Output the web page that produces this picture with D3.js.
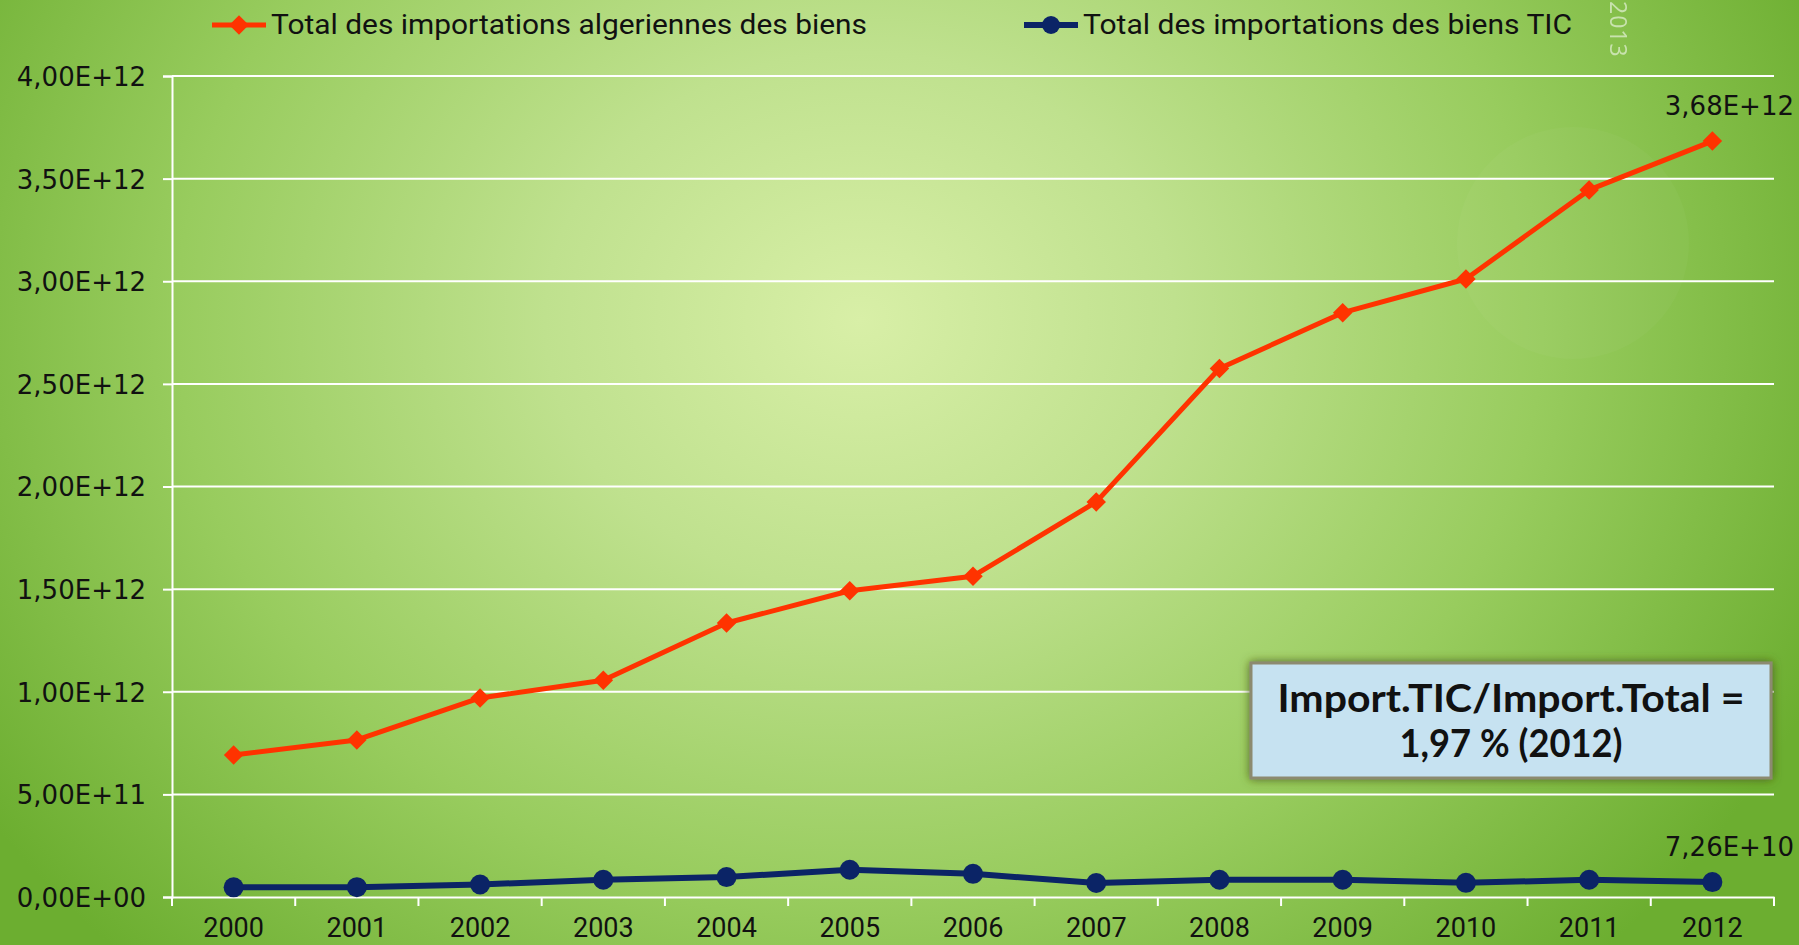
<!DOCTYPE html>
<html>
<head>
<meta charset="utf-8">
<script src="https://cdn.jsdelivr.net/npm/d3@7"></script>
<style>
	html, body { margin: 0; padding: 0; overflow: hidden; background: #7cbb42; }
	.axis-label { font-family: "DejaVu Sans", sans-serif; font-size: 26px; fill: #111; }
	.year-label { font-family: Roboto, sans-serif; font-size: 27px; fill: #111; }
	.legend-text { font-family: Roboto, sans-serif; font-size: 28px; fill: #111; }
	.data-label { font-family: "DejaVu Sans", sans-serif; font-size: 26px; fill: #111; }
	.note-text { font-family: Lato, sans-serif; font-weight: 700; font-size: 39px; fill: #111; }
</style>
</head>
<body>
<div id="chart"></div>
<script>

///////////////////////////////////////////////////////////////////////////
/////////////////////////////// The data //////////////////////////////////
///////////////////////////////////////////////////////////////////////////

var years = ["2000","2001","2002","2003","2004","2005","2006","2007","2008","2009","2010","2011","2012"];

//Total des importations algeriennes des biens
var totalImports = [0.692e12, 0.765e12, 0.97e12, 1.056e12, 1.335e12, 1.492e12, 1.563e12,
	1.925e12, 2.575e12, 2.847e12, 3.011e12, 3.445e12, 3.683e12];

//Total des importations des biens TIC
var ticImports = [0.047e12, 0.048e12, 0.061e12, 0.084e12, 0.097e12, 0.133e12, 0.113e12,
	0.068e12, 0.084e12, 0.084e12, 0.069e12, 0.084e12, 0.0726e12];

var yTicks = [0, 0.5e12, 1e12, 1.5e12, 2e12, 2.5e12, 3e12, 3.5e12, 4e12];

var seriesNames = ["Total des importations algeriennes des biens", "Total des importations des biens TIC"];
var noteLines = ["Import.TIC/Import.Total =", "1,97 % (2012)"];

///////////////////////////////////////////////////////////////////////////
//////////////////////////// Set up the SVG ///////////////////////////////
///////////////////////////////////////////////////////////////////////////

var totalWidth = 1799,
	totalHeight = 945;

var margin = {top: 76, right: 25, bottom: 48, left: 172};
var width = totalWidth - margin.left - margin.right;
var height = totalHeight - margin.top - margin.bottom;

var orange = "#ff3300",
	navy = "#0b2466";

var svg = d3.select("#chart")
	.append("svg")
	.attr("width", totalWidth)
	.attr("height", totalHeight);

var defs = svg.append("defs");

//Green slide background, light in the middle
var bgGrad = defs.append("radialGradient")
	.attr("id", "bg-grad")
	.attr("gradientUnits", "userSpaceOnUse")
	.attr("cx", 860).attr("cy", 320).attr("r", 1050)
	.attr("gradientTransform", "translate(860,320) scale(1,0.85) translate(-860,-320)");
bgGrad.append("stop").attr("offset", "0%").attr("stop-color", "#d8efa7");
bgGrad.append("stop").attr("offset", "30%").attr("stop-color", "#bfe18e");
bgGrad.append("stop").attr("offset", "65%").attr("stop-color", "#98cc5e");
bgGrad.append("stop").attr("offset", "100%").attr("stop-color", "#6cae30");

var shadow = defs.append("filter")
	.attr("id", "box-shadow")
	.attr("x", "-10%").attr("y", "-20%")
	.attr("width", "120%").attr("height", "140%");
shadow.append("feDropShadow")
	.attr("dx", 0).attr("dy", 0)
	.attr("stdDeviation", 5)
	.attr("flood-color", "#4b5a17")
	.attr("flood-opacity", 0.9);

svg.append("rect")
	.attr("width", totalWidth)
	.attr("height", totalHeight)
	.style("fill", "url(#bg-grad)");

//Faint decorative circle behind the top right
svg.append("circle")
	.attr("cx", 1573).attr("cy", 243).attr("r", 116)
	.style("fill", "#ffffff")
	.style("opacity", 0.03);

//Slide year, written vertically
svg.append("text")
	.attr("transform", "translate(1610,1) rotate(90)")
	.style("font-family", "'Open Sans', sans-serif")
	.style("font-size", "23px")
	.style("letter-spacing", "1px")
	.style("fill", "#ffffff")
	.style("opacity", 0.55)
	.text("2013");

///////////////////////////////////////////////////////////////////////////
//////////////////////////////// Scales ///////////////////////////////////
///////////////////////////////////////////////////////////////////////////

var x = d3.scaleBand()
	.domain(years)
	.range([margin.left, margin.left + width]);

var y = d3.scaleLinear()
	.domain([0, 4e12])
	.range([margin.top + height, margin.top]);

function xMid(d) { return x(d) + x.bandwidth() / 2; }

//Excel style scientific notation with a decimal comma
function sci(v) {
	if (v === 0) return "0,00E+00";
	var e = Math.floor(Math.log10(v));
	var m = v / Math.pow(10, e);
	return m.toFixed(2).replace(".", ",") + "E+" + (e < 10 ? "0" : "") + e;
}

///////////////////////////////////////////////////////////////////////////
///////////////////////////////// Axes ////////////////////////////////////
///////////////////////////////////////////////////////////////////////////

//Horizontal gridlines
svg.append("g")
	.attr("class", "grid")
	.selectAll("line")
	.data(yTicks.slice(1))
	.enter().append("line")
	.attr("x1", margin.left)
	.attr("x2", margin.left + width)
	.attr("y1", function(d) { return y(d); })
	.attr("y2", function(d) { return y(d); })
	.style("stroke", "#ffffff")
	.style("stroke-width", 2);

var yAxis = svg.append("g")
	.attr("transform", "translate(" + margin.left + ",0)")
	.call(d3.axisLeft(y).tickValues(yTicks).tickSize(9).tickPadding(17).tickFormat(sci));

yAxis.selectAll("line, path").style("stroke", "#ffffff").style("stroke-width", 2);
yAxis.selectAll("text").attr("class", "axis-label").attr("dy", "0.36em");

var xAxis = svg.append("g")
	.attr("transform", "translate(0," + (margin.top + height) + ")")
	.call(d3.axisBottom(x).tickSize(0).tickPadding(0));

xAxis.select(".domain").style("stroke", "#ffffff").style("stroke-width", 2);
xAxis.selectAll("text").attr("class", "year-label").attr("y", 40).attr("dy", 0);

//Tick marks sit between the categories
xAxis.selectAll(".edge-tick")
	.data(years.concat(["end"]))
	.enter().append("line")
	.attr("class", "edge-tick")
	.attr("x1", function(d) { return d === "end" ? x.range()[1] : x(d); })
	.attr("x2", function(d) { return d === "end" ? x.range()[1] : x(d); })
	.attr("y1", 0)
	.attr("y2", 9)
	.style("stroke", "#ffffff")
	.style("stroke-width", 2);

///////////////////////////////////////////////////////////////////////////
//////////////////////////////// Lines ////////////////////////////////////
///////////////////////////////////////////////////////////////////////////

var line = d3.line()
	.x(function(d, i) { return xMid(years[i]); })
	.y(function(d) { return y(d); });

var diamond = d3.symbol().type(d3.symbolSquare).size(190);

//TIC imports
svg.append("path")
	.datum(ticImports)
	.attr("d", line)
	.style("fill", "none")
	.style("stroke", navy)
	.style("stroke-width", 6)
	.style("stroke-linejoin", "round");

svg.selectAll(".tic-dot")
	.data(ticImports)
	.enter().append("circle")
	.attr("class", "tic-dot")
	.attr("cx", function(d, i) { return xMid(years[i]); })
	.attr("cy", function(d) { return y(d); })
	.attr("r", 10)
	.style("fill", navy);

//Total imports
svg.append("path")
	.datum(totalImports)
	.attr("d", line)
	.style("fill", "none")
	.style("stroke", orange)
	.style("stroke-width", 5)
	.style("stroke-linejoin", "round");

svg.selectAll(".total-dot")
	.data(totalImports)
	.enter().append("path")
	.attr("class", "total-dot")
	.attr("d", diamond)
	.attr("transform", function(d, i) {
		return "translate(" + xMid(years[i]) + "," + y(d) + ") rotate(45)";
	})
	.style("fill", orange);

//Value labels on the last year only
var last = years.length - 1;
[totalImports, ticImports].forEach(function(s) {
	svg.append("text")
		.attr("class", "data-label")
		.attr("x", xMid(years[last]) + 17)
		.attr("y", y(s[last]) - 26)
		.style("text-anchor", "middle")
		.text(sci(s[last]));
});

///////////////////////////////////////////////////////////////////////////
//////////////////////////////// Legend ///////////////////////////////////
///////////////////////////////////////////////////////////////////////////

var legendY = 25;
var legendItems = [
	{name: seriesNames[0], color: orange, x: 212, marker: "diamond", len: 596},
	{name: seriesNames[1], color: navy, x: 1024, marker: "circle", len: 489}
];

var legend = svg.selectAll(".legend-item")
	.data(legendItems)
	.enter().append("g")
	.attr("class", "legend-item")
	.attr("transform", function(d) { return "translate(" + d.x + "," + legendY + ")"; });

legend.append("line")
	.attr("x1", 0).attr("x2", 54)
	.attr("y1", 0).attr("y2", 0)
	.style("stroke", function(d) { return d.color; })
	.style("stroke-width", function(d) { return d.marker === "circle" ? 6 : 5; });

legend.filter(function(d) { return d.marker === "diamond"; })
	.append("path")
	.attr("d", diamond)
	.attr("transform", "translate(27,0) rotate(45)")
	.style("fill", orange);

legend.filter(function(d) { return d.marker === "circle"; })
	.append("circle")
	.attr("cx", 27).attr("r", 9)
	.style("fill", navy);

legend.append("text")
	.attr("class", "legend-text")
	.attr("x", 59)
	.attr("y", 9)
	.attr("textLength", function(d) { return d.len; })
	.attr("lengthAdjust", "spacingAndGlyphs")
	.text(function(d) { return d.name; });

///////////////////////////////////////////////////////////////////////////
////////////////////////////// Note box ///////////////////////////////////
///////////////////////////////////////////////////////////////////////////

var note = svg.append("g").attr("class", "note");

note.append("rect")
	.attr("x", 1251).attr("y", 663)
	.attr("width", 520).attr("height", 115)
	.style("fill", "#c6e2f1")
	.style("stroke", "#8c8a70")
	.style("stroke-width", 3)
	.style("filter", "url(#box-shadow)");

var noteLens = [467, 223];

note.selectAll(".note-text")
	.data(noteLines)
	.enter().append("text")
	.attr("class", "note-text")
	.attr("x", 1511)
	.attr("y", function(d, i) { return 712 + i * 45; })
	.attr("textLength", function(d, i) { return noteLens[i]; })
	.attr("lengthAdjust", "spacingAndGlyphs")
	.style("text-anchor", "middle")
	.text(function(d) { return d; });

</script>
</body>
</html>
